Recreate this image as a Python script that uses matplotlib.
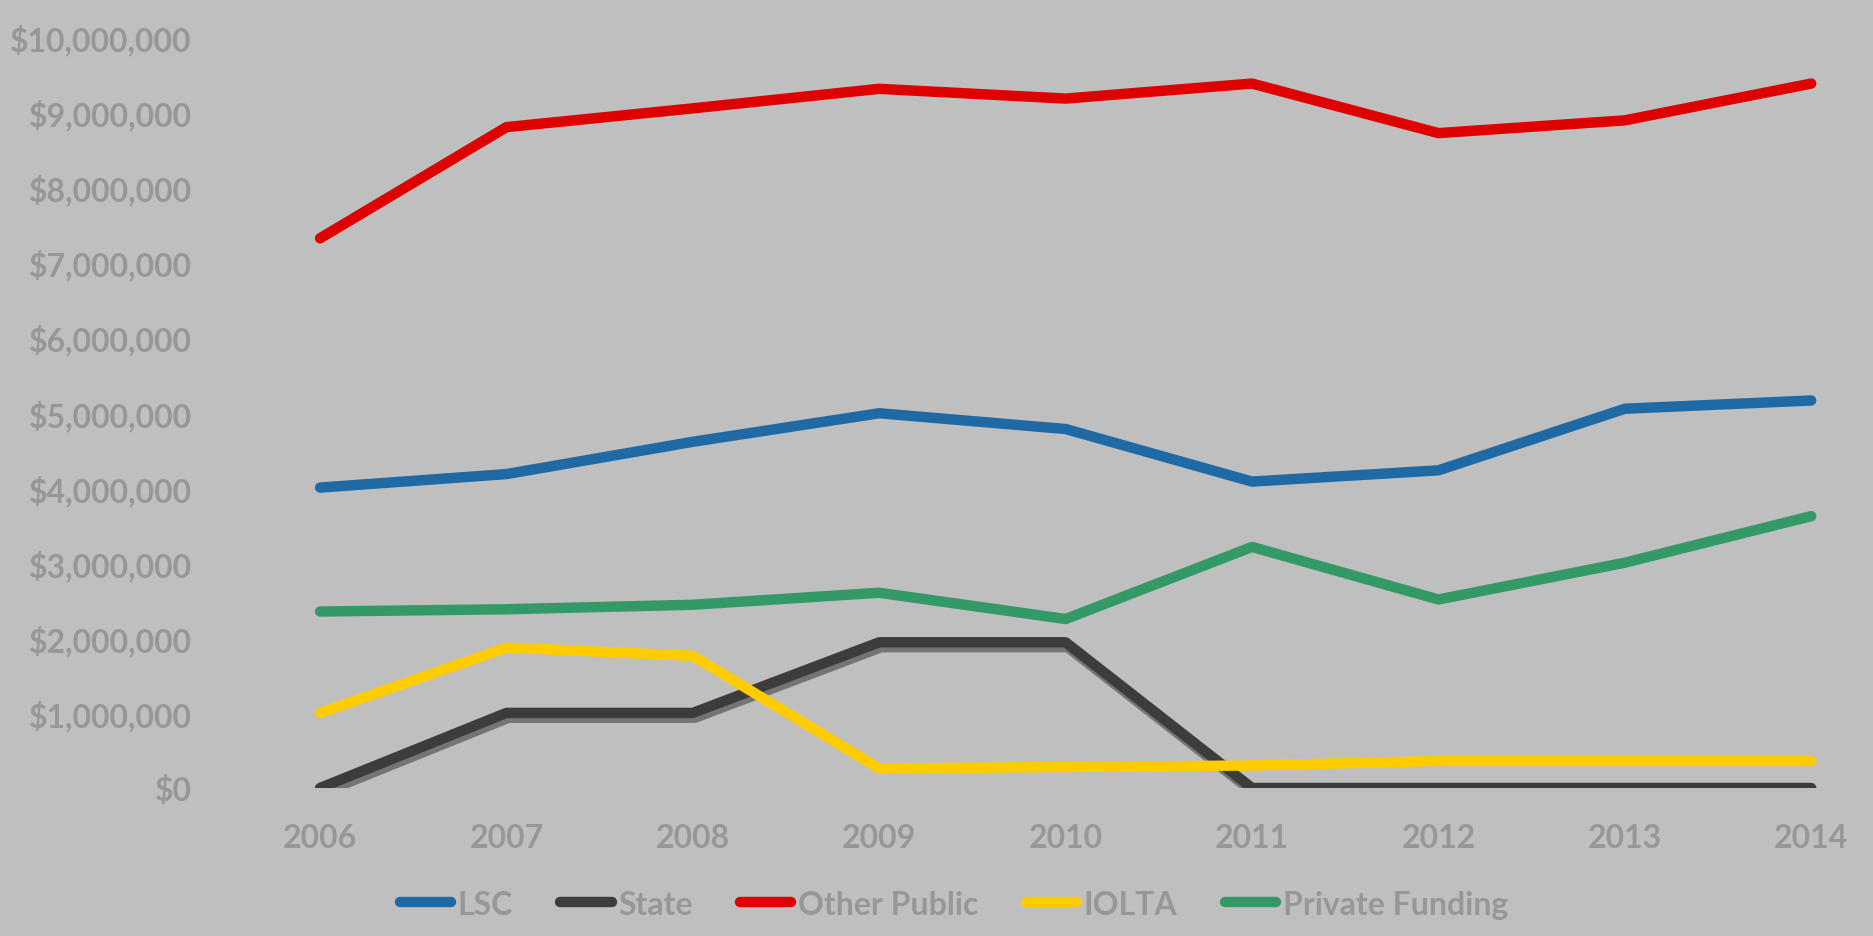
import matplotlib
matplotlib.use("Agg")
import matplotlib.pyplot as plt
import matplotlib.patheffects as pe
from matplotlib.ticker import FuncFormatter

# Funding by source, 2006-2014
years = [2006, 2007, 2008, 2009, 2010, 2011, 2012, 2013, 2014]
lsc = [4000000, 4180000, 4610000, 4990000, 4780000, 4080000, 4230000, 5050000, 5160000]
state = [0, 1000000, 1000000, 1940000, 1940000, 0, 0, 0, 0]
other_public = [7320000, 8800000, 9050000, 9310000, 9180000, 9380000, 8720000, 8890000, 9380000]
iolta = [1000000, 1870000, 1760000, 260000, 280000, 300000, 360000, 360000, 360000]
private_funding = [2350000, 2380000, 2440000, 2600000, 2250000, 3210000, 2510000, 3000000, 3620000]

BG = "#bfbfbf"
TXT = "#979797"

plt.rcParams['font.family'] = ['Lato', 'DejaVu Sans']
plt.rcParams['font.weight'] = 'bold'

fig = plt.figure(figsize=(18.74, 9.37), dpi=100, facecolor=BG)
ax = fig.add_axes([225 / 1874, (937 - 789) / 937, 1630 / 1874, (789 - 38) / 937])
ax.set_facecolor(BG)

lw = 7.5
kw = dict(lw=lw, solid_capstyle='round', solid_joinstyle='round')
ax.plot(years, lsc, color="#1f6aa5", label="LSC", zorder=3, **kw)
ax.plot(years, state, color="#3c3c3c", label="State", zorder=2,
        path_effects=[pe.SimpleLineShadow(offset=(1.5, -3.5), shadow_color='#2a2a2a', alpha=0.5), pe.Normal()], **kw)
ax.plot(years, other_public, color="#df0000", label="Other Public", zorder=3, **kw)
ax.plot(years, iolta, color="#ffcc00", label="IOLTA", zorder=3, **kw)
ax.plot(years, private_funding, color="#339966", label="Private Funding", zorder=3, **kw)

ax.set_xlim(2005.49, 2014.235)
ax.set_ylim(0, 10000000)
ax.set_xticks(years)
ax.set_yticks(range(0, 10000001, 1000000))
ax.yaxis.set_major_formatter(FuncFormatter(lambda v, p: "${:,.0f}".format(v)))

for s in ax.spines.values():
    s.set_visible(False)
ax.tick_params(axis='both', length=0, labelsize=23, labelcolor=TXT)
ax.tick_params(axis='y', pad=24)
ax.tick_params(axis='x', pad=25)

leg = fig.legend(loc='center', bbox_to_anchor=(0.509, 0.034), ncol=5, frameon=False,
                 fontsize=23, handlelength=1.6, handletextpad=0.2, columnspacing=1.5)
for t in leg.get_texts():
    t.set_color(TXT)
for h in leg.legend_handles:
    h.set_path_effects([pe.Normal()])

fig.savefig("out.png", dpi=100, facecolor=BG)
